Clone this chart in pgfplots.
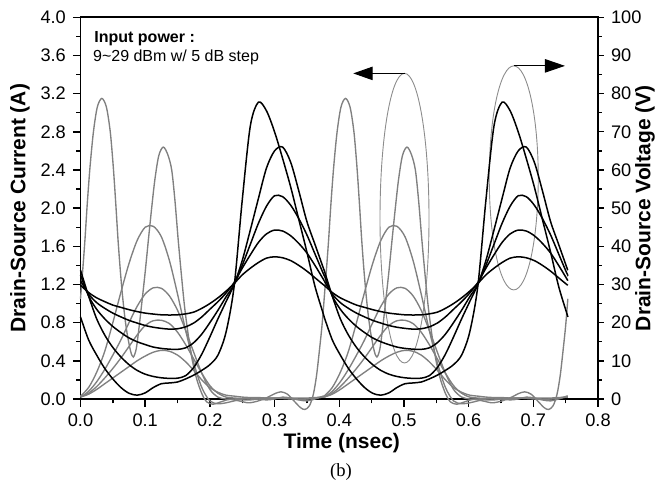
\documentclass[border=0pt]{standalone}
\usepackage{fontspec}
\setmainfont{Liberation Sans}
\newfontfamily\seriffont{Liberation Serif}
\usepackage{pgfplots}
\pgfplotsset{compat=1.18}
\usepackage{pgfplotstable}
\usetikzlibrary{arrows.meta}

% one period (phase 0 ... 0.3767 ns); voltages in V, currents in A
\pgfplotstableread{
t v1 v2 v3 v4 v5 g1 g2 g3 g4
0 29.8 31.0 32.5 33.75 21.5 0.02 0.02 0.02 0.03
0.0125 27.9 27.5 27.0 27.0 15.5 0.05 0.06 0.08 0.12
0.025 26.5 25.25 23.5 21.0 11.5 0.10 0.13 0.18 0.28
0.0375 25.5 23.75 21.0 16.75 8.0 0.16 0.22 0.31 0.50
0.05 24.6 22.5 19.0 13.5 5.25 0.22 0.32 0.46 0.80
0.0625 24.0 21.5 17.4 11.0 3.0 0.28 0.43 0.62 1.12
0.075 23.4 20.6 16.0 9.0 1.5 0.34 0.55 0.80 1.42
0.0875 22.9 19.9 15.0 7.5 1.0 0.40 0.67 0.97 1.66
0.1 22.5 19.25 14.25 6.5 1.6 0.45 0.77 1.10 1.80
0.1125 22.25 18.8 13.6 5.9 3.0 0.49 0.82 1.165 1.81
0.125 22.05 18.5 13.25 5.55 4.0 0.51 0.825 1.16 1.70
0.1375 22.0 18.3 13.05 5.4 4.2 0.50 0.79 1.08 1.45
0.15 22.05 18.4 13.0 5.45 4.45 0.46 0.70 0.93 1.10
0.1625 22.3 18.9 13.4 6.1 5.25 0.39 0.57 0.72 0.72
0.175 22.75 19.9 14.75 8.25 6.25 0.30 0.42 0.49 0.38
0.1875 23.75 21.5 17.0 11.75 7.5 0.20 0.27 0.27 0.12
0.2 25.0 23.5 20.0 16.25 9.0 0.12 0.14 0.10 -0.02
0.2125 26.5 25.5 23.25 21.0 11.5 0.07 0.06 0.02 -0.05
0.225 28.25 27.75 26.75 25.5 17.5 0.04 0.02 0.0 -0.04
0.2375 30.25 30.5 30.0 30.0 29.5 0.03 0.01 0.0 -0.02
0.25 32.5 34.25 35.0 36.25 52.0 0.02 0.005 -0.01 0.0
0.2625 34.25 37.75 40.5 44.25 71.5 0.015 0.0 -0.01 0.01
0.275 35.75 41.0 46.0 52.5 77.75 0.015 0.0 0.0 0.0
0.2875 36.9 43.25 50.5 60.5 75.5 0.01 0.005 0.01 -0.01
0.3 37.25 44.25 53.25 65.0 70.0 0.01 0.01 0.01 0.0
0.3125 37.0 44.0 53.0 66.0 63.0 0.01 0.01 0.005 0.02
0.325 36.25 42.75 50.75 62.0 55.5 0.01 0.005 0.0 0.01
0.3375 35.0 40.75 47.25 54.5 47.0 0.01 0.0 -0.005 -0.01
0.35 33.5 38.25 43.0 46.5 38.5 0.01 0.0 0.0 -0.02
0.3625 31.75 35.0 38.0 40.5 29.5 0.015 0.01 0.01 0.0
0.375 30.0 31.5 33.0 34.5 22.5 0.02 0.02 0.02 0.03
0.3767 29.8 31.0 32.5 33.75 21.5 0.02 0.02 0.02 0.03
}\tabA

% largest-drive current (29 dBm), one period
\pgfplotstableread{
t g
0 1.05
0.004 1.40
0.0069 1.67
0.0105 2.05
0.0147 2.43
0.02 2.80
0.026 3.06
0.033 3.15
0.04 3.06
0.046 2.80
0.0507 2.43
0.0545 2.05
0.058 1.67
0.0615 1.35
0.065 1.08
0.0685 0.86
0.072 0.69
0.0775 0.50
0.0816 0.44
0.086 0.52
0.09 0.72
0.095 1.02
0.1 1.33
0.105 1.67
0.11 2.00
0.115 2.30
0.121 2.55
0.128 2.64
0.135 2.56
0.141 2.40
0.146 2.08
0.151 1.67
0.156 1.30
0.161 0.96
0.167 0.65
0.173 0.40
0.18 0.20
0.188 0.05
0.195 -0.03
0.205 -0.055
0.215 -0.035
0.23 -0.005
0.245 -0.02
0.26 -0.04
0.275 -0.02
0.29 0.02
0.3 0.055
0.31 0.075
0.32 0.05
0.33 -0.02
0.34 -0.09
0.347 -0.11
0.354 -0.07
0.36 0.05
0.365 0.25
0.37 0.55
0.3735 0.78
0.3767 1.05
}\tabG

\tikzset{
  gcurve/.style={draw=black!50, line width=0.68pt, smooth, tension=0.5, mark=none},
  bcurve/.style={draw=black, line width=0.75pt, smooth, tension=0.5, mark=none},
}

\begin{document}
\begin{tikzpicture}
\path[use as bounding box] (-40.25pt,-43pt) rectangle (287.25pt,199.5pt);
\begin{axis}[
  scale only axis, width=258.75pt, height=190.85pt,
  xmin=0, xmax=0.8, ymin=0, ymax=4,
  clip=false,
  xtick={0,0.1,0.2,0.3,0.4,0.5,0.6,0.7,0.8},
  ytick={0,0.4,0.8,1.2,1.6,2.0,2.4,2.8,3.2,3.6,4.0},
  minor x tick num=1, minor y tick num=1,
  xtick pos=bottom, ytick pos=left,
  tick align=outside,
  major tick length=3.8pt, minor tick length=2.2pt,
  every tick/.style={black, line width=0.7pt},
  axis line style={line width=0.85pt},
  /pgf/number format/assume math mode=true,
  x tick label style={/pgf/number format/fixed, /pgf/number format/fixed zerofill, /pgf/number format/precision=1},
  y tick label style={/pgf/number format/fixed, /pgf/number format/fixed zerofill, /pgf/number format/precision=1},
  tick label style={font=\fontsize{9.1}{10.5}\selectfont},
  xlabel={Time (nsec)},
  xlabel style={font=\fontsize{10.5}{12}\selectfont\bfseries, at={(axis description cs:0.505,-0.1166)}, anchor=center},
  ylabel={Drain-Source Current (A)},
  ylabel style={font=\fontsize{10.5}{12}\selectfont\bfseries, at={(axis description cs:-0.1169,0.5)}, anchor=center},
]
\addplot[gcurve] table[x=t,y=g1]{\tabA};
\addplot[gcurve] table[x expr=\thisrow{t}+0.3767,y=g1]{\tabA};
\addplot[gcurve] table[x=t,y=g2]{\tabA};
\addplot[gcurve] table[x expr=\thisrow{t}+0.3767,y=g2]{\tabA};
\addplot[gcurve] table[x=t,y=g3]{\tabA};
\addplot[gcurve] table[x expr=\thisrow{t}+0.3767,y=g3]{\tabA};
\addplot[gcurve] table[x=t,y=g4]{\tabA};
\addplot[gcurve] table[x expr=\thisrow{t}+0.3767,y=g4]{\tabA};
\addplot[gcurve] table[x=t,y=g]{\tabG};
\addplot[gcurve] table[x expr=\thisrow{t}+0.3767,y=g]{\tabG};

\draw[black!45, line width=0.45pt] (axis cs:0.5009,1.895) ellipse [x radius=12.25pt, y radius=72.4pt];
\draw[black!45, line width=0.45pt] (axis cs:0.6698,2.317) ellipse [x radius=12.25pt, y radius=56pt];
\draw[black, line width=0.5pt, -{Triangle[length=9.7pt,width=6.7pt]}] (axis cs:0.5009,3.412) -- (axis cs:0.4217,3.412);
\draw[black, line width=0.5pt, -{Triangle[length=10pt,width=6.7pt]}] (axis cs:0.6698,3.491) -- (axis cs:0.749,3.491);

\node[anchor=base west, inner sep=0, font=\fontsize{8}{9.6}\selectfont\bfseries] at (axis cs:0.0209,3.739) {Input power :};
\node[anchor=base west, inner sep=0, font=\fontsize{8}{9.6}\selectfont] at (axis cs:0.0189,3.536) {9\textasciitilde29 dBm w/ 5 dB step};
\end{axis}

\begin{axis}[
  scale only axis, width=258.75pt, height=190.85pt,
  xmin=0, xmax=0.8, ymin=0, ymax=100,
  clip=false,
  axis x line=none,
  axis y line*=right,
  ytick={0,10,20,30,40,50,60,70,80,90,100},
  minor y tick num=1,
  tick align=outside,
  major tick length=3pt, minor tick length=1.8pt,
  every tick/.style={black, line width=0.7pt},
  axis line style={line width=0.85pt},
  /pgf/number format/assume math mode=true,
  tick label style={font=\fontsize{9.1}{10.5}\selectfont},
  ylabel={Drain-Source Voltage (V)},
  ylabel style={font=\fontsize{10.5}{12}\selectfont\bfseries, at={(axis description cs:1.0908,0.5)}, anchor=center},
]
\addplot[bcurve] table[x=t,y=v1]{\tabA};
\addplot[bcurve] table[x expr=\thisrow{t}+0.3767,y=v1]{\tabA};
\addplot[bcurve] table[x=t,y=v2]{\tabA};
\addplot[bcurve] table[x expr=\thisrow{t}+0.3767,y=v2]{\tabA};
\addplot[bcurve] table[x=t,y=v3]{\tabA};
\addplot[bcurve] table[x expr=\thisrow{t}+0.3767,y=v3]{\tabA};
\addplot[bcurve] table[x=t,y=v4]{\tabA};
\addplot[bcurve] table[x expr=\thisrow{t}+0.3767,y=v4]{\tabA};
\addplot[bcurve] table[x=t,y=v5]{\tabA};
\addplot[bcurve] table[x expr=\thisrow{t}+0.3767,y=v5]{\tabA};
\end{axis}

\node[anchor=base, font=\seriffont\fontsize{9.3}{11}\selectfont] at (130.25pt,-39pt) {(b)};
\end{tikzpicture}
\end{document}
